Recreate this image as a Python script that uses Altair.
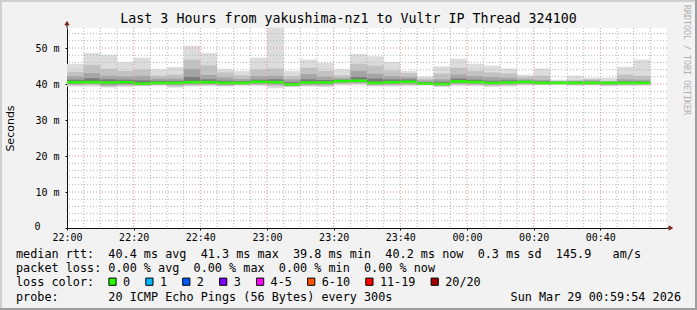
import altair as alt
import pandas as pd

MONO = "DejaVu Sans Mono"

title_text = "Last 3 Hours from yakushima-nz1 to Vultr IP Thread 324100"
x_tick_labels = ["22:00", "22:20", "22:40", "23:00", "23:20", "23:40", "00:00", "00:20", "00:40"]
y_tick_values = [0, 10, 20, 30, 40, 50]

# 5-minute bins starting at 22:00 (minutes since 22:00)
bin_start = list(range(0, 175, 5))

maxv = [45.6, 48.6, 48.1, 46.1, 47.3, 44.1, 44.7, 50.6, 48.6, 44.1, 43.6, 47.3, 55.6, 43.6, 46.8, 45.9, 44.1, 48.3,
        47.7, 46.1, 43.6, 42.1, 44.9, 47.0, 45.6, 45.1, 44.3, 42.6, 44.3, 41.2, 42.3, 41.7, 41.7, 44.8, 46.8]
q90 = [43.4, 45.3, 44.2, 43.6, 44.0, 42.3, 42.6, 46.8, 45.2, 43.2, 42.4, 44.0, 44.3, 42.2, 44.5, 43.6, 42.4, 45.6,
       45.1, 43.7, 43.0, 41.5, 42.9, 44.5, 43.6, 43.2, 42.9, 42.0, 42.3, 40.9, 41.1, 41.3, 40.9, 42.6, 42.3]
q75 = [42.2, 43.0, 42.3, 42.1, 42.3, 41.5, 41.5, 44.2, 42.5, 41.8, 41.4, 42.2, 42.3, 41.3, 42.7, 42.0, 41.6, 43.6,
       42.8, 42.2, 41.9, 41.0, 41.3, 42.6, 42.2, 41.9, 41.7, 41.3, 41.1, 40.7, 40.8, 41.0, 40.7, 41.3, 41.2]
q60 = [41.2, 41.6, 41.3, 41.2, 41.0, 40.9, 40.9, 42.0, 41.3, 40.9, 40.8, 41.2, 41.3, 40.5, 41.3, 41.1, 41.2, 42.0,
       41.5, 41.3, 41.3, 40.5, 40.6, 41.5, 41.2, 40.9, 41.0, 40.9, 40.7, 40.5, 40.6, 40.6, 40.5, 40.7, 40.7]
median = [40.5, 40.5, 40.4, 40.5, 40.1, 40.3, 40.3, 40.5, 40.5, 40.3, 40.3, 40.6, 40.5, 39.9, 40.4, 40.4, 40.8, 40.9,
          40.3, 40.5, 40.6, 40.1, 40.0, 40.7, 40.55, 40.3, 40.4, 40.55, 40.3, 40.3, 40.3, 40.3, 40.3, 40.3, 40.3]
q40 = [40.2, 40.3, 39.9, 40.0, 39.9, 40.1, 40.0, 40.2, 40.2, 40.0, 40.1, 40.3, 40.2, 39.7, 40.1, 40.1, 40.6, 40.6,
       40.0, 40.2, 40.3, 39.9, 39.8, 40.4, 40.3, 40.0, 40.1, 40.3, 40.1, 40.1, 40.1, 40.1, 40.0, 40.1, 40.1]
q25 = [39.9, 40.0, 39.6, 39.8, 39.7, 39.9, 39.7, 39.9, 40.0, 39.7, 39.9, 40.0, 39.9, 39.5, 39.8, 39.8, 40.3, 40.3,
       39.8, 39.9, 40.0, 39.8, 39.6, 40.1, 40.0, 39.8, 39.9, 40.1, 39.9, 40.0, 39.9, 39.9, 39.8, 39.9, 39.9]
q10 = [39.6, 39.7, 39.3, 39.5, 39.5, 39.7, 39.3, 39.6, 39.7, 39.5, 39.7, 39.7, 39.4, 39.3, 39.5, 39.5, 40.0, 40.1,
       39.6, 39.6, 39.7, 39.7, 39.4, 39.8, 39.7, 39.5, 39.6, 39.8, 39.9, 39.9, 39.7, 39.8, 39.6, 39.7, 39.8]
minv = [39.3, 39.3, 39.0, 39.2, 39.4, 39.5, 39.0, 39.3, 39.4, 39.3, 39.5, 39.5, 38.8, 39.2, 39.3, 39.2, 39.6, 39.8,
        39.3, 39.3, 39.4, 39.6, 39.2, 39.5, 39.4, 39.2, 39.3, 39.6, 39.7, 39.8, 39.5, 39.6, 39.4, 39.5, 39.5]

rtt_label = "median rtt:"
rtt_stats = ["40.4 ms avg", "41.3 ms max", "39.8 ms min", "40.2 ms now", "0.3 ms sd", "145.9   am/s"]
loss_label = "packet loss:"
loss_stats = ["0.00 % avg", "0.00 % max", "0.00 % min", "0.00 % now"]
color_label = "loss color:"
loss_names = ["0", "1", "2", "3", "4-5", "6-10", "11-19", "20/20"]
loss_colors = ["#26ff00", "#00b8ff", "#0059ff", "#7e00ff", "#ff00ff", "#ff5500", "#ff0000", "#a10000"]
probe_label = "probe:"
probe_text = "20 ICMP Echo Pings (56 Bytes) every 300s"
date_text = "Sun Mar 29 00:59:54 2026"
watermark = "RRDTOOL / TOBI OETIKER"

W, H = 600, 200
PL, PT = 67, 28
YMAX = 200 / 3.6

df = pd.DataFrame({
    "start": bin_start, "end": [s + 5 for s in bin_start],
    "minv": minv, "q10": q10, "q25": q25, "q40": q40, "median": median,
    "q60": q60, "q75": q75, "q90": q90, "maxv": maxv,
})

xs = alt.Scale(domain=[0, 180], nice=False, zero=False)
ys = alt.Scale(domain=[0, YMAX], nice=False, zero=False)

label_arr = "[" + ",".join("'%s'" % l for l in x_tick_labels) + "]"
xaxis = alt.Axis(values=[20 * i for i in range(len(x_tick_labels))], labelExpr=label_arr + "[round(datum.value/20)]",
                 grid=False, title=None, domainColor="#101010", tickColor="#101010", tickSize=2,
                 labelFont=MONO, labelFontSize=10, labelColor="black", labelPadding=2, labelFlush=False,
                 domainWidth=1)
yaxis = alt.Axis(values=y_tick_values, labelExpr="datum.value == 0 ? '' : datum.value + '\u00a0m'",
                 grid=False, title="Seconds", titleFont="DejaVu Sans", titleFontSize=11, titleFontWeight="normal",
                 titleAngle=270, titleX=-57, titleY=H / 2, titleAlign="center", titleBaseline="middle",
                 titleColor="black", domainColor="#101010", tickColor="#101010", tickSize=2,
                 labelFont=MONO, labelFontSize=10, labelColor="black", labelPadding=6, labelFlush=False)


def band(lo, hi, color):
    return alt.Chart(df).mark_rect(color=color).encode(
        x=alt.X("start:Q", scale=xs, axis=xaxis), x2="end:Q",
        y=alt.Y(lo + ":Q", scale=ys, axis=yaxis), y2=hi + ":Q")


layers = [
    band("minv", "maxv", "#dcdcdc"),
    band("q10", "q90", "#c2c2c2"),
    band("q25", "q75", "#a4a4a4"),
    band("q40", "q60", "#7a7a7a"),
    alt.Chart(df).mark_rule(color="#22ff00", strokeWidth=2.6).encode(
        x=alt.X("start:Q", scale=xs, axis=xaxis), x2="end:Q",
        y=alt.Y("median:Q", scale=ys, axis=yaxis)),
]

# grid
minor_x = pd.DataFrame({"m": [m for m in range(5, 180, 5) if m % 20 != 0]})
major_x = pd.DataFrame({"m": [m for m in range(20, 180, 20)]})
minor_y = pd.DataFrame({"v": [v for v in range(2, 56, 2) if v % 10 != 0]})
major_y = pd.DataFrame({"v": [v for v in range(10, 56, 10)]})
layers += [
    alt.Chart(minor_x).mark_rule(color="#b4b4b4", strokeDash=[1, 2], strokeWidth=1).encode(
        x=alt.X("m:Q", scale=xs, axis=xaxis)),
    alt.Chart(minor_y).mark_rule(color="#b4b4b4", strokeDash=[1, 2], strokeWidth=1).encode(
        y=alt.Y("v:Q", scale=ys, axis=yaxis)),
    alt.Chart(major_x).mark_rule(color="#e89090", strokeDash=[1, 2], strokeWidth=1).encode(
        x=alt.X("m:Q", scale=xs, axis=xaxis)),
    alt.Chart(major_y).mark_rule(color="#e89090", strokeDash=[1, 2], strokeWidth=1).encode(
        y=alt.Y("v:Q", scale=ys, axis=yaxis)),
]


def nb(s):
    return s.replace(" ", "\u00a0")


def txt(s, x, y, size=11.8, align="left", color="black", angle=0, font=MONO):
    return alt.Chart(pd.DataFrame({"t": [nb(s)]})).mark_text(
        align=align, baseline="middle", font=font, fontSize=size, color=color, angle=angle).encode(
        x=alt.value(x), y=alt.value(y), text="t:N")


CW = 7.1
LX = 16 - PL
line1 = rtt_label + "  " + "  ".join(rtt_stats)
line2 = loss_label + " " + "  ".join(loss_stats)
line4 = probe_label + " " * 7 + probe_text

layers += [
    txt(title_text, 348.5 - PL, 19.3 - PT, size=13.3, align="center"),
    txt("0", 37.5 - PL, H - 1.5, size=10, align="center"),
    txt(line1, LX, 254 - PT),
    txt(line2, LX, 268.3 - PT),
    txt(color_label, LX, 281.7 - PT),
    txt(line4, LX, 296.7 - PT),
    txt(date_text, 681 - PL, 296.7 - PT, align="right"),
    txt(watermark, 686 - PL, 60 - PT, size=8.3, color="#b0b0b0", angle=90, align="center"),
]

# loss color legend boxes
cur = 108.7
for name, col in zip(loss_names, loss_colors):
    layers.append(alt.Chart(pd.DataFrame({"n": [name]})).mark_square(
        size=52, fill=col, stroke="black", strokeWidth=1, opacity=1).encode(
        x=alt.value(cur + 3.8 - PL), y=alt.value(281.7 - PT)))
    tx = cur + 14.3
    layers.append(txt(name, tx - PL, 281.7 - PT))
    cur = tx + len(name) * CW + 15.5

# arrows and axis extensions
ARROW = "#801f1f"
layers += [
    alt.Chart(pd.DataFrame({"a": [0]})).mark_rule(color="#101010").encode(
        x=alt.value(W), x2=alt.value(W + 3), y=alt.value(H)),
    alt.Chart(pd.DataFrame({"a": [0]})).mark_rule(color="#101010").encode(
        x=alt.value(0), y=alt.value(-4), y2=alt.value(0)),
    alt.Chart(pd.DataFrame({"a": [0]})).mark_point(shape="triangle-right", filled=True, size=28,
                                                    color=ARROW, opacity=1).encode(
        x=alt.value(W + 4), y=alt.value(H)),
    alt.Chart(pd.DataFrame({"a": [0]})).mark_point(shape="triangle-up", filled=True, size=28,
                                                    color=ARROW, opacity=1).encode(
        x=alt.value(0), y=alt.value(-5)),
    # frame shading
    alt.Chart(pd.DataFrame({"a": [0]})).mark_rule(color="#cfcfcf", strokeWidth=2).encode(
        x=alt.value(-PL), x2=alt.value(697 - PL), y=alt.value(1 - PT)),
    alt.Chart(pd.DataFrame({"a": [0]})).mark_rule(color="#cfcfcf", strokeWidth=2).encode(
        x=alt.value(1 - PL), y=alt.value(-PT), y2=alt.value(310 - PT)),
    alt.Chart(pd.DataFrame({"a": [0]})).mark_rule(color="#9e9e9e", strokeWidth=2).encode(
        x=alt.value(-PL), x2=alt.value(697 - PL), y=alt.value(309 - PT)),
    alt.Chart(pd.DataFrame({"a": [0]})).mark_rule(color="#9e9e9e", strokeWidth=2).encode(
        x=alt.value(696 - PL), y=alt.value(-PT), y2=alt.value(310 - PT)),
]

chart = alt.layer(*layers).properties(
    width=W, height=H,
    autosize=alt.AutoSizeParams(type="none"),
    padding={"left": PL, "top": PT, "right": 697 - PL - W, "bottom": 310 - PT - H},
    background="#f2f2f2",
).configure_view(stroke=None, fill="white")

chart.save("out.html", embed_options={"renderer": "svg", "actions": False})
